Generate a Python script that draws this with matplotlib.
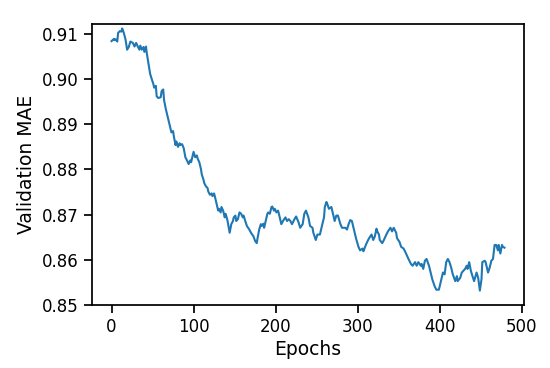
import matplotlib
matplotlib.use("Agg")
import matplotlib.pyplot as plt

epochs = [0, 3, 4, 5, 7, 8, 10, 12, 13, 15, 17, 19, 21, 23, 26, 28, 30, 32, 34, 35,
          37, 39, 40, 42, 43, 45, 47, 49, 51, 52, 54, 55, 57, 60, 61, 63, 64, 66, 69, 71,
          73, 75, 76, 78, 79, 81, 83, 84, 86, 88, 90, 92, 94, 96, 97, 99, 100, 102, 104, 105,
          107, 109, 110, 112, 113, 115, 117, 118, 120, 122, 123, 125, 126, 128, 130, 131, 133, 134, 136, 138,
          139, 141, 144, 146, 148, 149, 151, 152, 154, 156, 158, 160, 161, 163, 165, 168, 170, 173, 175, 177,
          178, 180, 182, 183, 185, 186, 188, 190, 191, 193, 195, 196, 198, 199, 201, 203, 204, 206, 207, 209,
          212, 214, 216, 218, 220, 223, 225, 228, 230, 233, 235, 237, 240, 242, 245, 246, 249, 251, 254, 257,
          259, 260, 262, 263, 265, 268, 269, 272, 274, 276, 279, 281, 285, 287, 289, 291, 293, 296, 298, 301,
          303, 306, 307, 310, 312, 314, 317, 319, 321, 323, 324, 326, 327, 330, 332, 335, 337, 340, 342, 344,
          347, 348, 351, 353, 356, 358, 360, 362, 365, 367, 370, 372, 374, 377, 378, 380, 382, 384, 387, 389,
          391, 394, 396, 399, 400, 403, 404, 406, 408, 410, 412, 414, 416, 419, 421, 422, 425, 427, 429, 431,
          433, 434, 436, 438, 440, 442, 445, 447, 449, 451, 452, 455, 456, 459, 461, 463, 465, 467, 469, 471,
          472, 474, 476, 477, 479]

val_mae = [0.9084, 0.9089, 0.9086, 0.9088, 0.9083, 0.9102, 0.9106, 0.9105, 0.9112, 0.9102,
           0.9088, 0.9065, 0.9071, 0.9083, 0.9080, 0.9072, 0.9080, 0.9072, 0.9065, 0.9074,
           0.9065, 0.9071, 0.9060, 0.9072, 0.9057, 0.9034, 0.9012, 0.9000, 0.8989, 0.8981,
           0.8985, 0.8962, 0.8958, 0.8960, 0.8973, 0.8977, 0.8954, 0.8935, 0.8912, 0.8897,
           0.8882, 0.8885, 0.8873, 0.8854, 0.8862, 0.8850, 0.8858, 0.8854, 0.8856, 0.8847,
           0.8827, 0.8820, 0.8812, 0.8820, 0.8816, 0.8831, 0.8839, 0.8827, 0.8831, 0.8824,
           0.8816, 0.8801, 0.8789, 0.8778, 0.8770, 0.8763, 0.8759, 0.8751, 0.8744, 0.8747,
           0.8741, 0.8747, 0.8740, 0.8724, 0.8709, 0.8713, 0.8705, 0.8717, 0.8709, 0.8694,
           0.8702, 0.8690, 0.8660, 0.8679, 0.8686, 0.8694, 0.8698, 0.8686, 0.8690, 0.8705,
           0.8702, 0.8694, 0.8698, 0.8686, 0.8675, 0.8667, 0.8660, 0.8652, 0.8642, 0.8637,
           0.8648, 0.8667, 0.8679, 0.8675, 0.8680, 0.8671, 0.8686, 0.8702, 0.8705, 0.8702,
           0.8717, 0.8718, 0.8709, 0.8713, 0.8705, 0.8709, 0.8702, 0.8686, 0.8679, 0.8686,
           0.8694, 0.8686, 0.8690, 0.8686, 0.8679, 0.8690, 0.8696, 0.8683, 0.8671, 0.8679,
           0.8702, 0.8709, 0.8694, 0.8675, 0.8671, 0.8660, 0.8644, 0.8656, 0.8656, 0.8679,
           0.8694, 0.8717, 0.8728, 0.8724, 0.8713, 0.8717, 0.8709, 0.8686, 0.8698, 0.8698,
           0.8679, 0.8671, 0.8671, 0.8667, 0.8679, 0.8688, 0.8686, 0.8663, 0.8648, 0.8629,
           0.8621, 0.8625, 0.8619, 0.8633, 0.8641, 0.8648, 0.8656, 0.8644, 0.8652, 0.8669,
           0.8663, 0.8656, 0.8644, 0.8637, 0.8644, 0.8656, 0.8663, 0.8671, 0.8663, 0.8671,
           0.8660, 0.8648, 0.8640, 0.8629, 0.8625, 0.8618, 0.8610, 0.8602, 0.8591, 0.8587,
           0.8595, 0.8587, 0.8595, 0.8587, 0.8591, 0.8580, 0.8598, 0.8602, 0.8587, 0.8572,
           0.8557, 0.8541, 0.8534, 0.8534, 0.8541, 0.8564, 0.8572, 0.8568, 0.8595, 0.8602,
           0.8595, 0.8583, 0.8568, 0.8553, 0.8564, 0.8553, 0.8560, 0.8572, 0.8576, 0.8580,
           0.8587, 0.8580, 0.8595, 0.8576, 0.8564, 0.8553, 0.8572, 0.8560, 0.8532, 0.8557,
           0.8595, 0.8598, 0.8595, 0.8572, 0.8583, 0.8598, 0.8602, 0.8633, 0.8633, 0.8621,
           0.8633, 0.8614, 0.8633, 0.8629, 0.8627]

x_label = "Epochs"
y_label = "Validation MAE"
y_ticks = [0.85, 0.86, 0.87, 0.88, 0.89, 0.90, 0.91]
x_ticks = [0, 100, 200, 300, 400, 500]

plt.rcParams['font.family'] = ['DejaVu Sans']
fig = plt.figure(figsize=(5.5, 3.68), dpi=100)
ax = fig.add_axes([0.167, 0.171, 0.786, 0.764])
ax.plot(epochs, val_mae, color='#1f77b4', linewidth=1.5)
ax.set_xlim(-24, 503)
ax.set_ylim(0.85, 0.9122)
ax.set_xticks(x_ticks)
ax.set_yticks(y_ticks)
ax.set_yticklabels([f"{t:.2f}" for t in y_ticks])
ax.tick_params(axis='both', labelsize=12, length=6, width=1.25, direction='out')
for s in ax.spines.values():
    s.set_linewidth(1.25)
ax.set_xlabel(x_label, fontsize=13.5, labelpad=3)
ax.set_ylabel(y_label, fontsize=13.5, labelpad=4)
fig.savefig("out.png", dpi=100)
